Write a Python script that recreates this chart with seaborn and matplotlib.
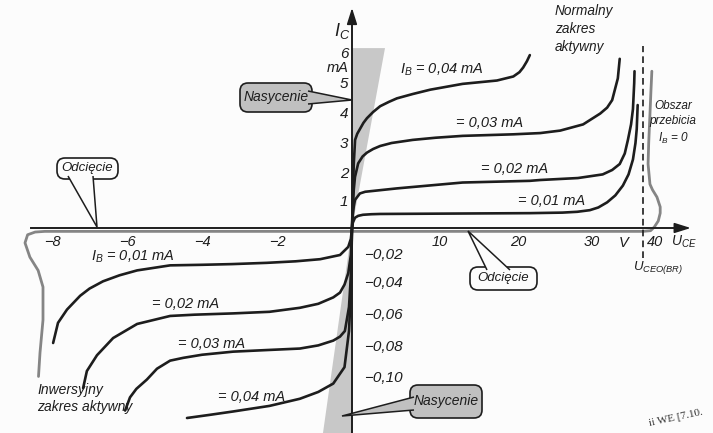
import numpy as np
import pandas as pd
import matplotlib
matplotlib.use("Agg")
import matplotlib.pyplot as plt
import matplotlib.transforms as mtransforms
from matplotlib.patches import FancyBboxPatch, Polygon
import seaborn as sns

# ---------------- data (U_CE in V, I_C in mA) ----------------
# normal active region, I_B = 0.01 ... 0.04 mA
p01_u = [0, 0.1, 0.34, 0.7, 1.25, 2.2, 3.2, 8.9, 15, 21.6, 26, 28, 29.7, 31, 32.4, 33.7, 34.9, 35.8, 36.5, 36.9, 37.1, 37.25]
p01_i = [0, 0.2, 0.38, 0.45, 0.49, 0.51, 0.52, 0.53, 0.54, 0.55, 0.57, 0.6, 0.66, 0.76, 0.95, 1.2, 1.55, 1.95, 2.45, 3.0, 3.45, 4.24]
p02_u = [0, 0.1, 0.2, 0.34, 0.9, 1.5, 2.4, 5.1, 12.9, 21.6, 23, 28.1, 31.7, 33.2, 34.4, 35.2, 35.7, 36.2, 36.5, 36.7, 36.75]
p02_i = [0, 0.5, 0.8, 1.04, 1.27, 1.33, 1.36, 1.45, 1.66, 1.72, 1.75, 1.82, 1.95, 2.1, 2.3, 2.65, 3.1, 3.6, 4.1, 5.0, 5.38]
p03_u = [0, 0.1, 0.2, 0.34, 0.7, 1.2, 1.7, 2.4, 3.2, 4.5, 6.9, 9.5, 12.9, 19.4, 23, 25.7, 28.8, 31.3, 32.4, 33.2, 34.1, 34.4]
p03_i = [0, 0.8, 1.4, 1.86, 2.32, 2.55, 2.68, 2.8, 2.9, 3.0, 3.1, 3.17, 3.23, 3.28, 3.32, 3.4, 3.6, 3.95, 4.15, 4.41, 5.15, 5.78]
p04_u = [0, 0.1, 0.2, 0.35, 0.6, 0.9, 1.3, 1.7, 2.4, 3.2, 4.2, 5.1, 6.9, 8.9, 12.9, 17.3, 19.4, 20.2, 20.7, 21.2, 21.6]
p04_i = [0, 1.2, 2.3, 3.1, 3.3, 3.45, 3.65, 3.8, 4.0, 4.2, 4.35, 4.47, 4.62, 4.77, 4.97, 5.08, 5.21, 5.35, 5.5, 5.7, 5.9]

# inverse active region
n01_u = [0, -0.03, -0.1, -0.32, -0.85, -1.5, -2.27, -3.2, -4.0, -4.85, -5.73, -6.2, -6.64, -7.0, -7.25, -7.6, -7.84, -7.97]
n01_i = [0, -0.008, -0.014, -0.020, -0.023, -0.0245, -0.0256, -0.0265, -0.027, -0.0274, -0.031, -0.0345, -0.0388,
         -0.0435, -0.048, -0.0566, -0.0649, -0.0775]
n02_u = [0, -0.03, -0.1, -0.2, -0.32, -0.5, -0.9, -1.39, -2.2, -3.17, -4.2, -4.85, -5.73, -6.37, -6.8, -7.07, -7.17]
n02_i = [0, -0.02, -0.033, -0.041, -0.046, -0.049, -0.053, -0.0555, -0.058, -0.059, -0.0598, -0.0606, -0.0656,
         -0.0744, -0.0853, -0.0955, -0.1065]
n03_u = [0, -0.03, -0.08, -0.19, -0.32, -0.5, -0.9, -1.39, -2.3, -3.17, -4.0, -4.5, -4.85, -5.2, -5.47, -5.75, -5.92, -6.05]
n03_i = [0, -0.035, -0.055, -0.07, -0.0735, -0.076, -0.079, -0.081, -0.082, -0.083, -0.085, -0.087, -0.0888, -0.094,
         -0.101, -0.107, -0.1125, -0.121]
n04_u = [0, -0.03, -0.08, -0.2, -0.5, -0.9, -1.39, -2.2, -3.17, -3.8, -4.4]
n04_i = [0, -0.045, -0.07, -0.093, -0.1036, -0.109, -0.1134, -0.118, -0.1216, -0.1238, -0.1258]

# I_B = 0 (cut-off + breakdown on both sides)
ib0_u = [-8.36, -8.32, -8.24, -8.24, -8.37, -8.59, -8.72, -8.65, -8.45, -8.19, -6, -4, -2, 0,
         10, 20, 30, 36, 38.1, 39.3, 39.9, 40.5, 40.8, 40.8, 40.3, 39.6, 39.2, 38.9, 39.0, 39.2, 39.35, 39.5]
ib0_i = [-0.099, -0.0837, -0.0631, -0.0425, -0.031, -0.0215, -0.011, -0.005, -0.003, -0.0025, -0.0025, -0.0025,
         -0.0025, -0.0025,
         -0.0025, -0.0025, -0.0025, -0.0025, -0.0025, -0.002, 0.04, 0.26, 0.55, 0.78, 1.14, 1.4, 1.6, 2.3, 3.0, 3.93,
         4.7, 5.38]

x_ticks = [-8, -6, -4, -2, 10, 20, 30, 40]
x_tick_labels = ["\u22128", "\u22126", "\u22124", "\u22122", "10", "20", "30", "40"]
y_ticks_pos = [1, 2, 3, 4, 5, 6]
y_ticks_neg = [-0.02, -0.04, -0.06, -0.08, -0.10]
y_tick_neg_labels = ["\u22120,02", "\u22120,04", "\u22120,06", "\u22120,08", "\u22120,10"]
u_breakdown = 38.1

# ---------------- style ----------------
sns.set_style("white")
plt.rcParams["font.family"] = ["Liberation Sans", "DejaVu Sans"]
plt.rcParams["mathtext.fontset"] = "custom"
plt.rcParams["mathtext.it"] = "Liberation Sans:italic"
plt.rcParams["mathtext.rm"] = "Liberation Sans:italic"
plt.rcParams["mathtext.default"] = "it"

INK = "#1d1d1d"
GREY_LINE = "#858585"

fig = plt.figure(figsize=(7.13, 4.33), dpi=100, facecolor="#fcfcfc")
ax = fig.add_axes([0, 0, 1, 1])
ax.set_facecolor("#fcfcfc")

# piecewise-linear axis scales (as drawn in the original diagram)
XK = np.array([-60, 0, 10, 20, 30, 40, 100.0])
XP = np.array([352 - 60 * 37.5, 352, 440, 518, 592, 655, 655 + 60 * 6.5])
YK = np.array([-1, -0.10, -0.08, -0.06, -0.04, -0.02, 0, 1, 2, 3, 4, 5, 6, 20.0])
YP = np.array([378 + 0.9 * 1550, 378, 347, 315, 283, 255, 228, 201, 173, 143, 112, 83, 52, 52 - 14 * 30.0])


def fx(v):
    return np.interp(v, XK, XP)


def fx_inv(p):
    return np.interp(p, XP, XK)


def fy(v):
    return -np.interp(v, YK, YP)


def fy_inv(u):
    return np.interp(-np.asarray(u), YP[::-1], YK[::-1])


ax.set_xscale("function", functions=(fx, fx_inv))
ax.set_yscale("function", functions=(fy, fy_inv))

# pixel transform for annotations (origin top-left)
PX = mtransforms.Affine2D().scale(1 / 100, -1 / 100).translate(0, 4.33) + fig.dpi_scale_trans

# saturation wedges
ax.fill([0, 3.75, 0], [0, 6.13, 6.13], color="#c8c8c8", lw=0, zorder=1)
ax.fill([0, 0, -0.8], [0, -0.14, -0.14], color="#c8c8c8", lw=0, zorder=1)

# curves
frames = []
for name, u, i in [("p01", p01_u, p01_i), ("p02", p02_u, p02_i), ("p03", p03_u, p03_i), ("p04", p04_u, p04_i),
                   ("n01", n01_u, n01_i), ("n02", n02_u, n02_i), ("n03", n03_u, n03_i), ("n04", n04_u, n04_i)]:
    frames.append(pd.DataFrame({"U": u, "I": i, "curve": name}))
df = pd.concat(frames, ignore_index=True)
sns.lineplot(data=df, x="U", y="I", units="curve", estimator=None, sort=False,
             color=INK, lw=1.9, ax=ax, zorder=4, solid_joinstyle="round", solid_capstyle="round")
df0 = pd.DataFrame({"U": ib0_u, "I": ib0_i})
sns.lineplot(data=df0, x="U", y="I", estimator=None, sort=False, color=GREY_LINE, lw=2.0, ax=ax, zorder=3,
             solid_joinstyle="round")

# breakdown voltage dashed line
ax.plot([u_breakdown, u_breakdown], [-0.022, 6.2], color=INK, lw=1.2, dashes=(4, 2.5), zorder=3)

# limits
ax.set_xlim(float(fx_inv(0)), float(fx_inv(713)))
ax.set_ylim(float(fy_inv(-433)), float(fy_inv(0)))
ax.set_xlabel("")
ax.set_ylabel("")

# axes through the origin
for s in ["top", "right"]:
    ax.spines[s].set_visible(False)
ax.spines["left"].set_position(("data", 0))
ax.spines["bottom"].set_position(("data", 0))
ax.spines["left"].set_bounds(float(fy_inv(-433)), 7.2)
ax.spines["bottom"].set_bounds(-8.55, 44.8)
for s in ["left", "bottom"]:
    ax.spines[s].set_color(INK)
    ax.spines[s].set_linewidth(1.4)
    ax.spines[s].set_zorder(5)

ax.annotate("", xy=(45.5, 0), xytext=(43.5, 0),
            arrowprops=dict(arrowstyle="-|>,head_length=0.7,head_width=0.22", color=INK, lw=1.2,
                            shrinkA=0, shrinkB=0, mutation_scale=14), zorder=6)
ax.annotate("", xy=(0, 7.47), xytext=(0, 7.0),
            arrowprops=dict(arrowstyle="-|>,head_length=0.7,head_width=0.22", color=INK, lw=1.2,
                            shrinkA=0, shrinkB=0, mutation_scale=14), zorder=6)

ax.set_xticks(x_ticks)
ax.set_xticklabels(x_tick_labels)
ax.set_yticks(y_ticks_pos + y_ticks_neg)
ax.set_yticklabels([str(v) for v in y_ticks_pos] + [""] * len(y_ticks_neg))
ax.tick_params(axis="x", direction="in", length=6, width=1.1, color=INK, pad=5, labelsize=10.5, labelcolor=INK)
ax.tick_params(axis="y", direction="in", length=6, width=1.1, color=INK, pad=2.5, labelsize=11, labelcolor=INK)
for t in ax.get_xticklabels() + ax.get_yticklabels():
    t.set_fontstyle("italic")

for v, lab in zip(y_ticks_neg, y_tick_neg_labels):
    ax.annotate(lab, xy=(0, v), xytext=(9, 0), textcoords="offset points", ha="left", va="center",
                fontsize=11, style="italic", color=INK)


def txt(x, y, s, size=10.5, ha="center", va="center", **kw):
    ax.text(x, y, s, transform=PX, ha=ha, va=va, fontsize=size, style="italic", color=INK, zorder=9, **kw)


txt(342, 31, "$I_C$", size=13)
txt(349, 68, "mA", size=10.5, ha="right")
txt(624, 243, "V", size=10.5)
txt(684, 242, "$U_{CE}$", size=10)
txt(658, 267, "$U_{CEO(BR)}$", size=9.5)

txt(442, 70, "$I_B$ = 0,04 mA")
txt(490, 123, "= 0,03 mA")
txt(515, 169, "= 0,02 mA")
txt(552, 201, "= 0,01 mA")
txt(133, 257, "$I_B$ = 0,01 mA")
txt(186, 304, "= 0,02 mA")
txt(212, 344, "= 0,03 mA")
txt(252, 397, "= 0,04 mA")

txt(555, 4, "Normalny\nzakres\naktywny", size=9.8, ha="left", va="top", linespacing=1.35)
txt(673, 100, "Obszar\nprzebicia\n$I_B$ = 0", size=8.5, ha="center", va="top", linespacing=1.35)
txt(37, 383, "Inwersyjny\nzakres aktywny", size=10, ha="left", va="top", linespacing=1.25)


def callout(box, base, tip, text, fc, size=10):
    x0, y0, x1, y1 = box
    ax.add_patch(FancyBboxPatch((x0, y0), x1 - x0, y1 - y0, boxstyle="round,pad=0,rounding_size=8",
                                transform=PX, fc=fc, ec=INK, lw=1.2, zorder=7))
    ax.add_patch(Polygon([base[0], tip, base[1]], closed=False, transform=PX, fc=fc, ec=INK,
                         lw=1.1, zorder=7.5, joinstyle="miter"))
    txt((x0 + x1) / 2, (y0 + y1) / 2, text, size=size)


callout((240, 83, 312, 112), [(308, 91), (308, 104)], (352, 100), "Nasycenie", "#c0c0c0")
callout((410, 385, 482, 418), [(414, 397), (414, 410)], (342, 416), "Nasycenie", "#c0c0c0")
callout((57, 158, 118, 179), [(68, 176), (93, 176)], (97, 227), "Odcięcie", "#fcfcfc", size=9.5)
callout((470, 267, 537, 290), [(487, 270), (510, 270)], (468, 231), "Odcięcie", "#fcfcfc", size=9.5)

ax.text(676, 418, "ii WE [7.10.", transform=PX, ha="center", va="center", fontsize=8,
        family="Liberation Serif", rotation=12, color="#333333", zorder=9)

fig.savefig("out.png", dpi=100, facecolor=fig.get_facecolor())
